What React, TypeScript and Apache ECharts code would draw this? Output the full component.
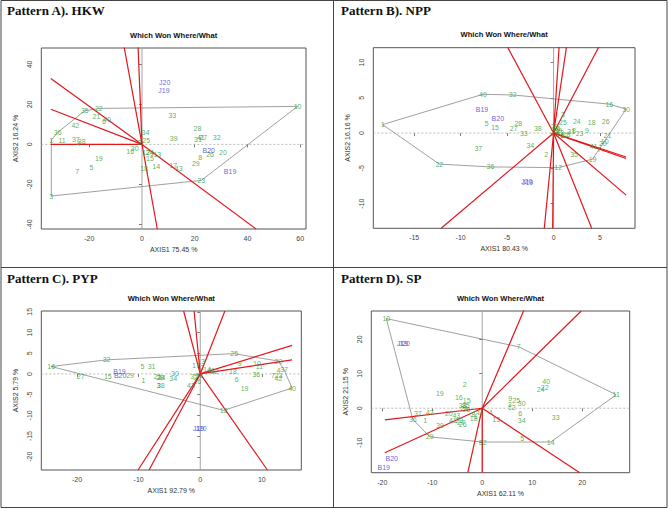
import React, { useEffect, useRef } from "react";
import * as echarts from "echarts";

type Pt = [string, number, number];

// ---------- Pattern A). HKW ----------
const hkwGenotypes: Pt[] = [
  ["10", 59, 19], ["3", -34.4, -25.8], ["23", 22.5, -18], ["35", -21.7, 16.8], ["22", -16.4, 18],
  ["36", -32, 6], ["1", -34.4, 2.2], ["11", -30.3, 2.2], ["37", -25.1, 2.7], ["38", -22.9, 1.3],
  ["4", -24, 0.3], ["21", -17.3, 14.1], ["40", -13.3, 12.7], ["6", -14.4, 11.7], ["42", -25.3, 9.5],
  ["33", 11.5, 14.5], ["28", 21, 8], ["34", 1.3, 6.2], ["25", 1.6, 2.2], ["39", 12, 3],
  ["31", 21.2, 2.3], ["41", 22.3, 3.5], ["27", 23.2, 3.6], ["32", 28.3, 3.3], ["26", 25.8, -5.2],
  ["20", 30.7, -3.8], ["8", 22.1, -6.7], ["29", 20.4, -9.3], ["17", 11.8, -10.3], ["43", 13.9, -11.8],
  ["14", 5.4, -11], ["18", 0.8, -12.2], ["15", 3, -7.2], ["24", 2.9, -4.2], ["9", 3.8, -4.6],
  ["13", 5.8, -5.2], ["16", -4.5, -3.7], ["30", -2.8, -2.2], ["2", -1, 0.8], ["19", -16.4, -6.9],
  ["5", -19.2, -11.5], ["7", -24.6, -13.4], ["12", 1.5, -4.0],
];
const hkwEnvironments: Pt[] = [["J20", 8.6, 30.8], ["J19", 8.3, 27.2], ["B20", 25.3, -3], ["B19", 33.4, -13.7]];
const hkwHull = ["10", "22", "35", "36", "1", "3", "23", "10"];
const hkwRays: [number, number][] = [[-1.5, 48.8], [-6.8, 48.8], [5.8, -42.3], [-34.6, 33], [43.3, -42.3], [-34.6, 17.6], [-34.6, 0]];
const hkwXRange = [-38.2, 62.2];
const hkwYRange = [-42.3, 48.2];
const hkwXTicks = [-20, 0, 20, 40, 60];
const hkwYTicks = [-40, -20, 0, 20, 40];

// ---------- Pattern B). NPP ----------
const nppGenotypes: Pt[] = [
  ["1", -18.4, 1.2], ["40", -7.6, 5.5], ["32", -4.4, 5.4], ["16", 6.0, 4.1], ["30", 7.8, 3.4],
  ["22", -12.3, -4.4], ["36", -6.8, -4.8], ["12", 0.5, -4.9], ["19", 4.2, -3.7], ["7", 4.9, -2.3],
  ["41", 4.3, -1.9], ["21", 5.8, -0.3], ["10", 5.5, -1.2], ["20", 5.3, -1.5], ["5", -7.2, 1.3],
  ["15", -6.3, 0.8], ["27", -4.3, 0.6], ["28", -3.8, 1.3], ["33", -3.2, -0.1], ["38", -1.7, 0.7],
  ["34", -2.5, -1.8], ["37", -8.1, -2.2], ["2", -0.8, -3.0], ["3", 1.0, 2.6], ["25", 1.0, 1.5],
  ["24", 2.5, 1.6], ["18", 4.1, 1.5], ["26", 5.6, 1.7], ["9", 3.6, 0.4], ["31", 1.9, 0.2],
  ["23", 2.8, -0.05], ["35", 2.2, -3.0], ["14", 0.3, 0.6], ["4", 0.4, 0.2], ["6", 0.9, -0.3],
  ["17", 1.2, -0.4], ["8", 2.2, 0.3], ["13", 1.4, -0.2], ["29", 0.1, 0.9], ["39", 0.5, 0.4],
  ["42", 0.1, -0.2], ["43", 0.7, 0.1],
];
const nppEnvironments: Pt[] = [["B19", -7.7, 3.4], ["B20", -6.0, 2.0], ["J20", -2.9, -6.9], ["J19", -2.8, -6.95]];
const nppHull = ["1", "40", "32", "16", "30", "7", "19", "12", "36", "22", "1"];
const nppRays: [number, number][] = [[-5.0, 12.3], [4.1, -13.5], [0.6, 12.3], [1.4, 12.3], [4.9, 12.3], [-1.0, -13.5], [-0.1, -13.5], [-12.1, -13.5], [7.8, -3.6], [7.8, -3.4], [7.8, -8.8]];
const nppXRange = [-19.4, 8.76];
const nppYRange = [-13.5, 12.1];
const nppXTicks = [-15, -10, -5, 0, 5];
const nppYTicks = [-10, -5, 0, 5, 10];

// ---------- Pattern C). PYP ----------
const pypGenotypes: Pt[] = [
  ["16", -24.2, 1.8], ["32", -15.2, 3.4], ["25", 5.5, 4.9], ["20", 12.7, 3.1], ["37", 13.6, 1.0],
  ["40", 14.9, -3.4], ["12", 3.8, -8.8], ["27", -19.4, -0.5], ["15", -15, -0.7], ["29", -11.4, -0.3],
  ["5", -9.4, 1.8], ["31", -7.9, 1.8], ["1", -9.2, -1.5], ["21", -6.9, -0.6], ["28", -6.5, -0.9],
  ["24", -6.3, -0.8], ["34", -4.4, -1.1], ["30", -4.1, 0.1], ["3", -6.8, -2.7], ["38", -6.4, -2.7],
  ["35", -1.0, -0.5], ["43", -1.5, -2.7], ["26", -0.5, -1.8], ["17", -0.7, 2.1], ["13", 0.1, 2.9],
  ["14", 1.1, 1.0], ["41", 1.8, 0.8], ["22", 2.3, 0.7], ["9", 6.4, 2.6], ["18", 5.3, 0.7],
  ["10", 9.2, 2.6], ["11", 9.6, 1.8], ["36", 9.1, -0.1], ["6", 5.9, -1.4], ["19", 7.2, -3.5],
  ["4", 12.7, 0.9], ["7", 11.8, -0.3], ["23", 12.7, -0.3], ["42", 12.7, -1.1], ["2", 0.3, 1.5],
  ["33", -0.2, -0.4],
];
const pypEnvironments: Pt[] = [["B19", -13.1, 0.5], ["B20", -13.0, -0.3], ["J19", -0.3, -13.1], ["J20", 0.1, -13.1]];
const pypHull = ["16", "32", "25", "20", "37", "40", "12", "16"];
const pypRays: [number, number][] = [[-2.7, 15.2], [-1.0, 15.2], [4.0, 15.2], [-10.1, -23.2], [-8.3, -23.2], [10.9, -23.2], [14.9, 6.9], [14.9, 3.4]];
const pypXRange = [-25.8, 16.4];
const pypYRange = [-23.2, 15.2];
const pypXTicks = [-20, -10, 0, 10];
const pypYTicks = [-20, -15, -10, -5, 0, 5, 10, 15];

// ---------- Pattern D). SP ----------
const spGenotypes: Pt[] = [
  ["10", -19.2, 26.0], ["7", 7.3, 17.8], ["11", 26.8, 3.9], ["14", 13.7, -9.8], ["32", 0.1, -9.8],
  ["29", -10.5, -8.3], ["36", -13.9, -3.2], ["40", 12.8, 7.7], ["22", 12.5, 5.9], ["24", 11.7, 5.3],
  ["2", -3.5, 6.8], ["19", -8.5, 4.4], ["16", -4.7, 3.0], ["15", -3.1, 2.1], ["38", -3.9, 0.7],
  ["35", -3.3, 0.7], ["9", 5.6, 2.8], ["25", 6.8, 2.1], ["30", 7.9, 1.4], ["3", 5.5, 1.0],
  ["12", 5.9, 0.1], ["6", 7.6, -1.6], ["34", 7.9, -3.7], ["33", 14.7, -2.6], ["5", 8.0, -8.8],
  ["13", 2.8, -3.3], ["4", 1.7, -1.1], ["37", -12.9, -1.5], ["42", -10.5, -1.3], ["1", -11.4, -3.5],
  ["39", -8.5, -4.9], ["20", -6.7, -1.5], ["43", -5.2, -2.1], ["41", -5.9, -3.7], ["23", -4.6, -3.6],
  ["27", -4.2, -4.2], ["26", -3.9, -4.6], ["8", -1.8, -1.9], ["18", -1.7, -3.0], ["17", -0.9, -2.5],
  ["21", -3.6, -0.1], ["28", -3.2, -0.3], ["31", -0.5, -1.0],
];
const spEnvironments: Pt[] = [["J19", -16.0, 18.8], ["J20", -15.6, 18.9], ["B20", -18.1, -14.5], ["B19", -19.7, -17.2]];
const spHull = ["10", "7", "11", "14", "32", "29", "36", "10"];
const spRays: [number, number][] = [[8.7, 29.7], [19.8, 28.2], [19.5, -18.7], [0, -18.7], [-2.9, -18.7], [-19.5, -3.4], [-19.5, -12.9]];
const spXRange = [-22.2, 29.5];
const spYRange = [-18.7, 28.2];
const spXTicks = [-20, -10, 0, 10, 20];
const spYTicks = [-10, 0, 10, 20];

const panelTitles = ["Pattern A). HKW", "Pattern B). NPP", "Pattern C). PYP", "Pattern D). SP"];
const xNames = ["AXIS1 75.45 %", "AXIS1 80.43 %", "AXIS1 92.79 %", "AXIS1 62.11 %"];
const yNames = ["AXIS2 16.24 %", "AXIS2 16.16 %", "AXIS2 5.79 %", "AXIS2 21.15 %"];
const plotTitle = "Which Won Where/What";

// layout (pixels)
const gridBoxes = [
  { left: 41.3, top: 48, width: 264.7, height: 181 },
  { left: 373.3, top: 47.7, width: 261.7, height: 180.6 },
  { left: 41.3, top: 311, width: 260, height: 159 },
  { left: 371.3, top: 311, width: 258.4, height: 161.7 },
];
const panelOrigins = [[0, 0], [334, 0], [0, 268], [334, 268]];

const panels = [
  { geno: hkwGenotypes, env: hkwEnvironments, hull: hkwHull, rays: hkwRays, xr: hkwXRange, yr: hkwYRange, xt: hkwXTicks, yt: hkwYTicks },
  { geno: nppGenotypes, env: nppEnvironments, hull: nppHull, rays: nppRays, xr: nppXRange, yr: nppYRange, xt: nppXTicks, yt: nppYTicks },
  { geno: pypGenotypes, env: pypEnvironments, hull: pypHull, rays: pypRays, xr: pypXRange, yr: pypYRange, xt: pypXTicks, yt: pypYTicks },
  { geno: spGenotypes, env: spEnvironments, hull: spHull, rays: spRays, xr: spXRange, yr: spYRange, xt: spXTicks, yt: spYTicks },
];

const GREEN = "#2f9a35";
const BLUE = "#3b3bd0";
const RED = "#e3161c";
const FRAME = "#555";

function buildOption() {
  const grid: any[] = [];
  const xAxis: any[] = [];
  const yAxis: any[] = [];
  const series: any[] = [];
  const graphic: any[] = [];

  panels.forEach((p, i) => {
    const g = gridBoxes[i];
    grid.push({ ...g, show: true, borderColor: FRAME, borderWidth: 1, backgroundColor: "rgba(0,0,0,0)", containLabel: false });
    xAxis.push({
      type: "value", gridIndex: i, min: p.xr[0], max: p.xr[1],
      axisLine: { show: false }, splitLine: { show: false },
      axisTick: { show: true, customValues: p.xt, length: 3, lineStyle: { color: FRAME, width: 0.8 } },
      axisLabel: { customValues: p.xt, fontSize: 7, color: "#444", margin: 6, fontFamily: "Arial" },
      name: xNames[i], nameLocation: "middle", nameGap: 17,
      nameTextStyle: { fontSize: 7, color: "#333", fontFamily: "Arial" },
    });
    yAxis.push({
      type: "value", gridIndex: i, min: p.yr[0], max: p.yr[1],
      axisLine: { show: false }, splitLine: { show: false },
      axisTick: { show: true, customValues: p.yt, length: 3, lineStyle: { color: FRAME, width: 0.8 } },
      axisLabel: { customValues: p.yt, fontSize: 7, color: "#444", margin: 8, rotate: 90, fontFamily: "Arial" },
      name: yNames[i], nameLocation: "middle", nameGap: 22,
      nameTextStyle: { fontSize: 7, color: "#333", fontFamily: "Arial" },
    });
    const common = { xAxisIndex: i, yAxisIndex: i, silent: true, animation: false };
    series.push({ type: "line", ...common, data: [[0, p.yr[0]], [0, p.yr[1]]], symbol: "none", lineStyle: { color: "#9a9a9a", width: 0.9 }, z: 1 });
    series.push({ type: "line", ...common, data: [[p.xr[0], 0], [p.xr[1], 0]], symbol: "none", lineStyle: { color: "#aaa", width: 0.8, type: [2, 2] }, z: 1 });
    const lookup = new Map(p.geno.map((d) => [d[0], [d[1], d[2]]]));
    series.push({ type: "line", ...common, data: p.hull.map((l) => lookup.get(l)), symbol: "none", lineStyle: { color: "#888", width: 0.8 }, z: 2 });
    p.rays.forEach((r) => {
      series.push({ type: "line", ...common, data: [[0, 0], r], symbol: "none", lineStyle: { color: RED, width: 1.2 }, z: 3 });
    });
    series.push({
      type: "scatter", ...common, symbolSize: 1, itemStyle: { color: "rgba(0,0,0,0)" },
      data: p.geno.map((d) => ({ name: d[0], value: [d[1], d[2]] })),
      label: { show: true, position: "inside", formatter: "{b}", color: GREEN, fontSize: 7, fontFamily: "Arial" }, z: 4,
    });
    series.push({
      type: "scatter", ...common, symbolSize: 1, itemStyle: { color: "rgba(0,0,0,0)" },
      data: p.env.map((d) => ({ name: d[0], value: [d[1], d[2]] })),
      label: { show: true, position: "inside", formatter: "{b}", color: BLUE, fontSize: 7, fontFamily: "Arial" }, z: 4,
    });
    const [ox, oy] = panelOrigins[i];
    graphic.push({
      type: "text", left: undefined, x: ox + 7, y: oy + 10, silent: true,
      style: { text: panelTitles[i], font: "bold 13px 'Liberation Serif', serif", fill: "#111", textVerticalAlign: "middle" },
    });
    graphic.push({
      type: "text", x: g.left + g.width / 2, y: g.top - 13, silent: true,
      style: { text: plotTitle, font: "bold 7.6px 'Liberation Sans', Arial, sans-serif", fill: "#111", textAlign: "center", textVerticalAlign: "middle" },
    });
  });

  graphic.push({ type: "rect", shape: { x: 1, y: 0.5, width: 666, height: 507 }, style: { fill: "none", stroke: "#444", lineWidth: 1 }, silent: true });
  graphic.push({ type: "line", shape: { x1: 333.5, y1: 0, x2: 333.5, y2: 507 }, style: { stroke: "#444", lineWidth: 1 }, silent: true });
  graphic.push({ type: "line", shape: { x1: 1, y1: 267.5, x2: 667, y2: 267.5 }, style: { stroke: "#444", lineWidth: 1 }, silent: true });

  return { animation: false, backgroundColor: "#fff", grid, xAxis, yAxis, series, graphic };
}

export default function App() {
  const ref = useRef<HTMLDivElement>(null);
  useEffect(() => {
    document.body.style.margin = "0";
    const chart = echarts.init(ref.current!, undefined, { renderer: "svg" });
    chart.setOption(buildOption() as any);
    return () => chart.dispose();
  }, []);
  return <div ref={ref} style={{ width: 668, height: 509 }} />;
}
